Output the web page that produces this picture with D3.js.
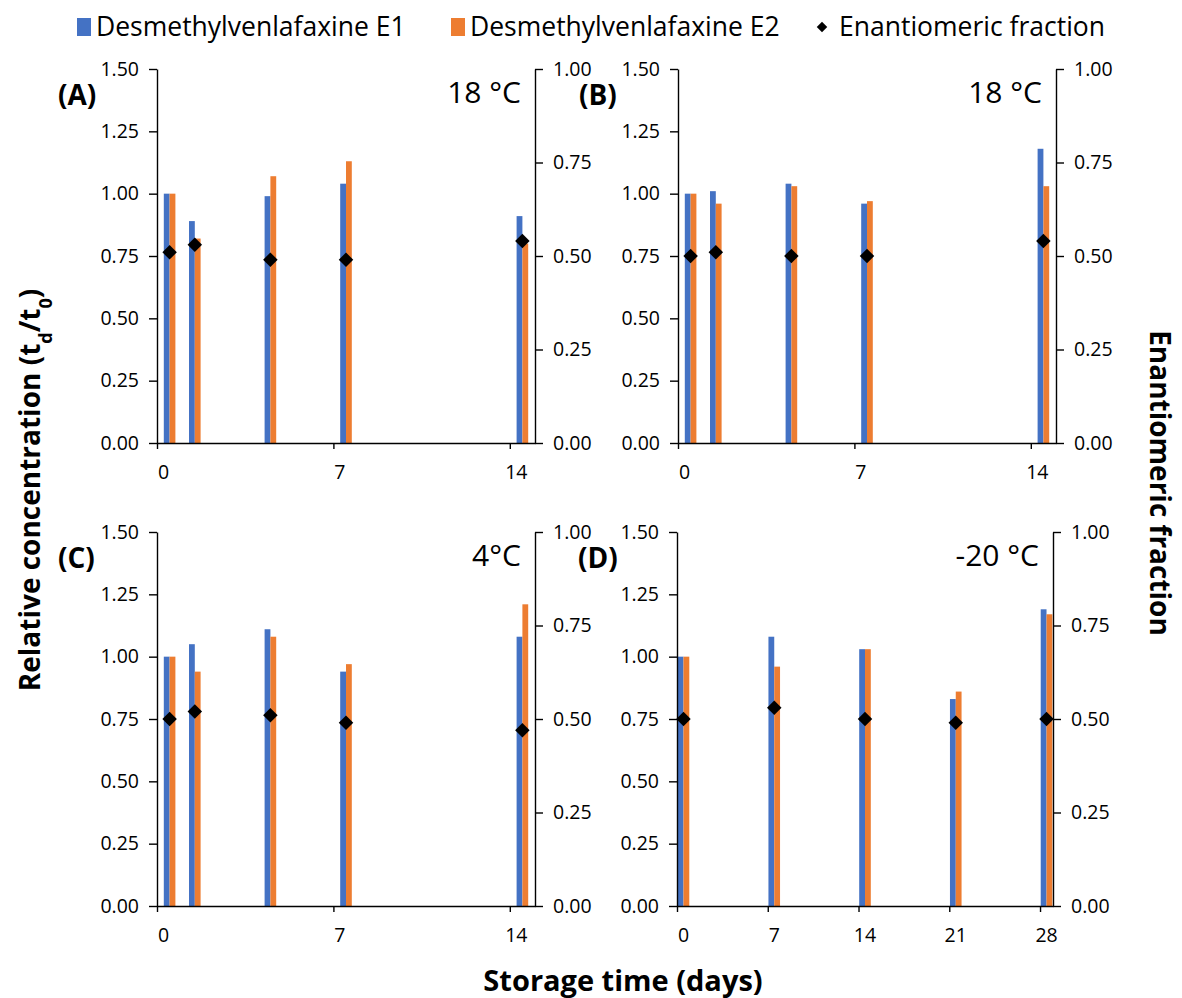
<!DOCTYPE html>
<html>
<head>
<meta charset="utf-8">
<script src="https://cdn.jsdelivr.net/npm/d3@7"></script>
<style>
  body { margin: 0; background: #fff; }
  text { font-family: "Open Sans", sans-serif; fill: #000; }
</style>
</head>
<body>
<script>
// storage days
let daysShort = [0, 1, 4, 7, 14];
let daysLong = [0, 7, 14, 21, 28];

// (A) 18 °C
let aE1 = [1.00, 0.89, 0.99, 1.04, 0.91];
let aE2 = [1.00, 0.82, 1.07, 1.13, 0.80];
let aEF = [0.51, 0.53, 0.49, 0.49, 0.54];
// (B) 18 °C
let bE1 = [1.00, 1.01, 1.04, 0.96, 1.18];
let bE2 = [1.00, 0.96, 1.03, 0.97, 1.03];
let bEF = [0.50, 0.51, 0.50, 0.50, 0.54];
// (C) 4°C
let cE1 = [1.00, 1.05, 1.11, 0.94, 1.08];
let cE2 = [1.00, 0.94, 1.08, 0.97, 1.21];
let cEF = [0.50, 0.52, 0.51, 0.49, 0.47];
// (D) -20 °C
let dE1 = [1.00, 1.08, 1.03, 0.83, 1.19];
let dE2 = [1.00, 0.96, 1.03, 0.86, 1.17];
let dEF = [0.50, 0.53, 0.50, 0.49, 0.50];

let leftTicks = [0, 0.25, 0.5, 0.75, 1.0, 1.25, 1.5];
let rightTicks = [0, 0.25, 0.5, 0.75, 1.0];
let seriesNames = ["Desmethylvenlafaxine E1", "Desmethylvenlafaxine E2", "Enantiomeric fraction"];
let colors = {e1: "#4472C4", e2: "#ED7D31"};

let panels = [
  {tag: "(A)", temp: "18 °C", days: daysShort, e1: aE1, e2: aE2, ef: aEF, xmax: 15, xticks: [0, 7, 14],
   x0: 157, x1: 535, y0: 69, y1: 443},
  {tag: "(B)", temp: "18 °C", days: daysShort, e1: bE1, e2: bE2, ef: bEF, xmax: 15, xticks: [0, 7, 14],
   x0: 678, x1: 1056, y0: 69, y1: 443},
  {tag: "(C)", temp: "4°C", days: daysShort, e1: cE1, e2: cE2, ef: cEF, xmax: 15, xticks: [0, 7, 14],
   x0: 157, x1: 535, y0: 532, y1: 906},
  {tag: "(D)", temp: "-20 °C", days: daysLong, e1: dE1, e2: dE2, ef: dEF, xmax: 29, xticks: [0, 7, 14, 21, 28],
   x0: 677, x1: 1053, y0: 532, y1: 906}
];

let W = 1182, H = 998;
let barW = 5.8, dayShift = 0.5;
let svg = d3.select("body").append("svg").attr("width", W).attr("height", H);
svg.append("rect").attr("width", W).attr("height", H).attr("fill", "#fff");

let diamond = d3.symbol().type(d3.symbolSquare).size(105);

function drawPanel(p) {
  let g = svg.append("g");
  let x = d3.scaleLinear().domain([0, p.xmax]).range([p.x0, p.x1]);
  let yl = d3.scaleLinear().domain([0, 1.5]).range([p.y1, p.y0]);
  let yr = d3.scaleLinear().domain([0, 1]).range([p.y1, p.y0]);
  let rows = p.days.map((d, i) => ({day: d, e1: p.e1[i], e2: p.e2[i], ef: p.ef[i]}));

  g.selectAll(".b1").data(rows).enter().append("rect")
    .attr("x", d => x(d.day + dayShift) - barW).attr("width", barW)
    .attr("y", d => yl(d.e1)).attr("height", d => yl(0) - yl(d.e1))
    .attr("fill", colors.e1);
  g.selectAll(".b2").data(rows).enter().append("rect")
    .attr("x", d => x(d.day + dayShift)).attr("width", barW)
    .attr("y", d => yl(d.e2)).attr("height", d => yl(0) - yl(d.e2))
    .attr("fill", colors.e2);

  let axL = g.append("g").attr("transform", `translate(${p.x0},0)`)
    .call(d3.axisLeft(yl).tickValues(leftTicks).tickFormat(d3.format(".2f")).tickSize(8).tickSizeOuter(0).tickPadding(10));
  let axR = g.append("g").attr("transform", `translate(${p.x1},0)`)
    .call(d3.axisRight(yr).tickValues(rightTicks).tickFormat(d3.format(".2f")).tickSize(8).tickSizeOuter(0).tickPadding(10));
  let axB = g.append("g").attr("transform", `translate(0,${p.y1})`)
    .call(d3.axisBottom(x).tickValues(p.xticks).tickFormat(d3.format("d")).tickSize(6).tickSizeOuter(0).tickPadding(16));
  [axL, axR, axB].forEach(a => {
    a.selectAll("path, line").attr("stroke", "#000").attr("stroke-width", 1.4);
    a.selectAll("text").style("font-size", "19.5px").attr("fill", "#000");
  });
  // x labels sit centred on the bar pair in the reference
  axB.selectAll("text").attr("dx", 6);

  g.selectAll(".ef").data(rows).enter().append("path")
    .attr("d", diamond)
    .attr("transform", d => `translate(${x(d.day + dayShift)},${yr(d.ef)}) rotate(45)`)
    .attr("fill", "#000");

  g.append("text").attr("x", p.x0 - 99).attr("y", p.y0 + 36)
    .style("font-size", "28px").style("font-weight", "bold").text(p.tag);
  g.append("text").attr("x", p.x1 - 14).attr("y", p.y0 + 34).attr("text-anchor", "end")
    .style("font-size", "30px").text(p.temp);
}
panels.forEach(drawPanel);

// legend
let leg = svg.append("g").attr("transform", "translate(0,27)");
let legItems = [
  {x: 77, kind: "rect", color: colors.e1, name: seriesNames[0]},
  {x: 451, kind: "rect", color: colors.e2, name: seriesNames[1]},
  {x: 816, kind: "diamond", color: "#000", name: seriesNames[2]}
];
legItems.forEach(it => {
  if (it.kind == "rect")
    leg.append("rect").attr("x", it.x).attr("y", -9).attr("width", 14).attr("height", 18).attr("fill", it.color);
  else
    leg.append("path").attr("d", d3.symbol().type(d3.symbolSquare).size(55))
      .attr("transform", `translate(${it.x + 6},0) rotate(45)`).attr("fill", it.color);
  leg.append("text").attr("x", it.x + (it.kind == "rect" ? 19 : 23)).attr("y", 0).attr("dy", "0.35em")
    .style("font-size", "26.5px").text(it.name);
});

// axis titles
let yt = svg.append("text").attr("transform", "translate(40,490) rotate(-90)").attr("text-anchor", "middle")
  .style("font-size", "28px").style("font-weight", "bold");
yt.append("tspan").text("Relative concentration (t");
yt.append("tspan").attr("baseline-shift", "sub").style("font-size", "18px").text("d");
yt.append("tspan").text("/t");
yt.append("tspan").attr("baseline-shift", "sub").style("font-size", "18px").text("0");
yt.append("tspan").text(")");

svg.append("text").attr("transform", "translate(1150,483) rotate(90)").attr("text-anchor", "middle")
  .style("font-size", "28px").style("font-weight", "bold").text("Enantiomeric fraction");

svg.append("text").attr("x", 623).attr("y", 991).attr("text-anchor", "middle")
  .style("font-size", "29px").style("font-weight", "bold").text("Storage time (days)");
</script>
</body>
</html>
